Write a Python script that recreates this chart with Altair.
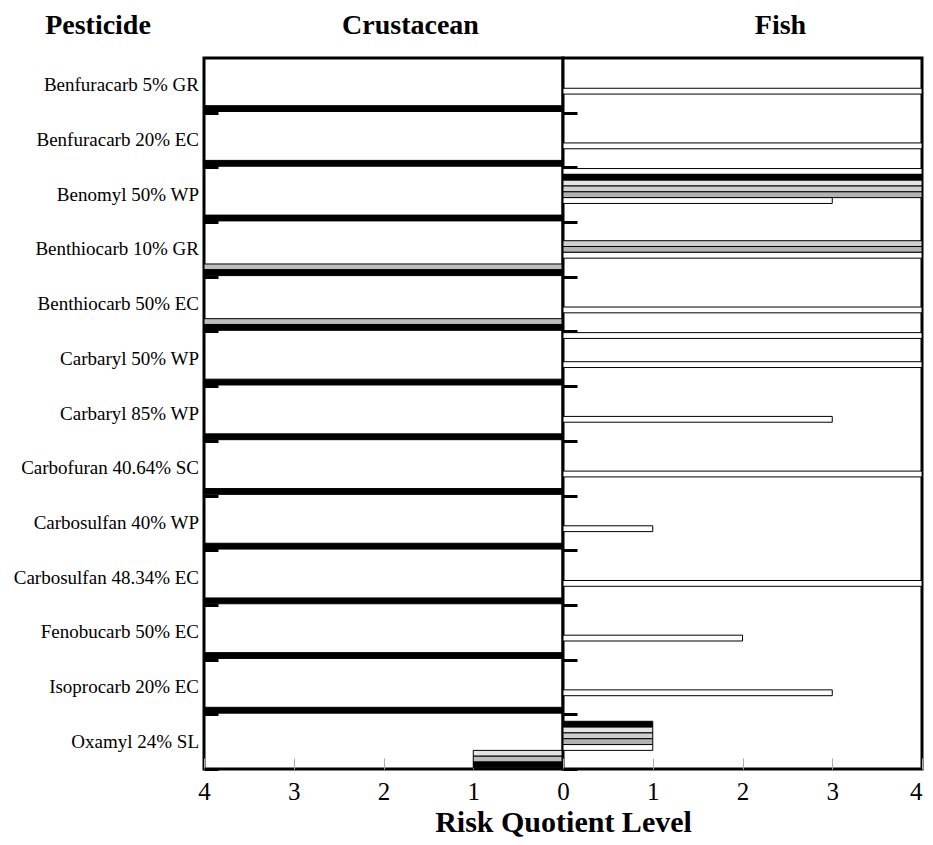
import altair as alt
import pandas as pd

SERIF = "Liberation Serif"

pesticides = [
    "Benfuracarb 5% GR",
    "Benfuracarb 20% EC",
    "Benomyl 50% WP",
    "Benthiocarb 10% GR",
    "Benthiocarb 50% EC",
    "Carbaryl 50% WP",
    "Carbaryl 85% WP",
    "Carbofuran 40.64% SC",
    "Carbosulfan 40% WP",
    "Carbosulfan 48.34% EC",
    "Fenobucarb 50% EC",
    "Isoprocarb 20% EC",
    "Oxamyl 24% SL",
]

series = ["S1", "S2", "S3", "S4", "S5", "S6", "S7", "S8", "S9"]
series_colors = ["white", "black", "#e4e4e4", "#cfcfcf", "#b3b3b3",
                 "white", "#e4e4e4", "#bdbdbd", "black"]

# Fish risk quotient levels (right panel)
fish_s1 = [0, 0, 4, 0, 0, 4, 0, 0, 0, 0, 0, 0, 0]
fish_s2 = [0, 0, 4, 0, 0, 0, 0, 0, 0, 0, 0, 0, 1]
fish_s3 = [0, 0, 4, 0, 0, 0, 0, 0, 0, 0, 0, 0, 1]
fish_s4 = [0, 0, 4, 4, 0, 0, 0, 0, 0, 0, 0, 0, 1]
fish_s5 = [0, 0, 4, 4, 0, 0, 0, 0, 0, 0, 0, 0, 1]
fish_s6 = [4, 4, 3, 4, 4, 4, 3, 4, 1, 4, 2, 3, 1]

# Crustacean risk quotient levels (left panel)
crus_s7 = [0, 0, 0, 0, 0, 0, 0, 0, 0, 0, 0, 0, 1]
crus_s8 = [0, 0, 0, 4, 4, 0, 0, 0, 0, 0, 0, 0, 1]
crus_s9 = [4, 4, 4, 4, 4, 4, 4, 4, 4, 4, 4, 4, 1]

x_ticks = [0, 1, 2, 3, 4]


def long_table(names, arrays):
    rows = []
    for name, vals in zip(names, arrays):
        for p, v in zip(pesticides, vals):
            rows.append({"pesticide": p, "series": name, "value": v})
    return pd.DataFrame(rows)


fish_df = long_table(series[:6], [fish_s1, fish_s2, fish_s3, fish_s4, fish_s5, fish_s6])
crus_df = long_table(series[6:], [crus_s7, crus_s8, crus_s9])
label_df = pd.DataFrame({"pesticide": pesticides})

W, H = 359, 711
LW = 190

yscale = alt.Scale(domain=pesticides, paddingInner=0, paddingOuter=0)
off_scale = alt.Scale(domain=series, paddingInner=0, paddingOuter=0.2)
fill_scale = alt.Scale(domain=series, range=series_colors)


def y_axis():
    # ticks drawn inside the panel at the lower boundary of each band
    return alt.Axis(labels=False, title=None, domain=False, ticks=True,
                    tickOffset=H / len(pesticides) / 2, tickSize=14,
                    tickWidth=3, tickColor="black", offset=-14)


def title(text, dx):
    return alt.TitleParams(text, font=SERIF, fontSize=28, fontWeight="bold",
                           color="black", anchor="middle", dx=dx, offset=-4,
                           baseline="alphabetic")


def panel(df, reverse, axis_values, xtitle, ttl, dx, align):
    xaxis_kwargs = dict(values=axis_values, labelFont=SERIF, labelFontSize=25,
                        labelColor="black", labelFlush=False, labelPadding=10,
                        labelAlign=align,
                        domain=False, grid=False, tickColor="#aaaaaa",
                        tickSize=11, tickWidth=1, offset=-11)
    if xtitle:
        xaxis_kwargs.update(title=xtitle, titleFont=SERIF, titleFontSize=30,
                            titleFontWeight="bold", titleColor="black",
                            titleX=W, titleY=73, titleAlign="center",
                            titleBaseline="alphabetic")
    else:
        xaxis_kwargs.update(title=None)
    return (
        alt.Chart(df)
        .transform_filter("datum.value > 0")
        .mark_bar(stroke="black", strokeWidth=1)
        .encode(
            x=alt.X("value:Q",
                    scale=alt.Scale(domain=[0, 4], reverse=reverse, nice=False),
                    axis=alt.Axis(**xaxis_kwargs)),
            y=alt.Y("pesticide:N", scale=yscale, axis=y_axis()),
            yOffset=alt.YOffset("series:N", scale=off_scale),
            fill=alt.Fill("series:N", scale=fill_scale, legend=None),
        )
        .properties(width=W, height=H, title=title(ttl, dx),
                    view=alt.ViewBackground(stroke="black", strokeWidth=3,
                                            fill="white"))
    )


left = panel(crus_df, True, [1, 2, 3, 4], "Risk Quotient Level", "Crustacean",
             27, "center")
right = panel(fish_df, False, x_ticks, None, "Fish", 38,
              {"expr": "datum.value == 4 ? 'right' : 'center'"})

labels = (
    alt.Chart(label_df)
    .mark_text(align="right", baseline="middle", font=SERIF, fontSize=19,
               color="black")
    .encode(
        y=alt.Y("pesticide:N", scale=yscale, axis=None),
        x=alt.value(LW - 5),
        text="pesticide:N",
    )
    .properties(width=LW, height=H, title=title("Pesticide", -11),
                view=alt.ViewBackground(stroke="transparent"))
)

chart = (
    alt.hconcat(labels, left, right, spacing=0, bounds="flush")
    .resolve_scale(x="independent")
    .configure_view(stroke="transparent")
    .properties(background="white",
                padding={"left": 5, "top": 2, "right": 0, "bottom": 0})
)

chart.save("out.html", embed_options={"renderer": "svg", "actions": False})
